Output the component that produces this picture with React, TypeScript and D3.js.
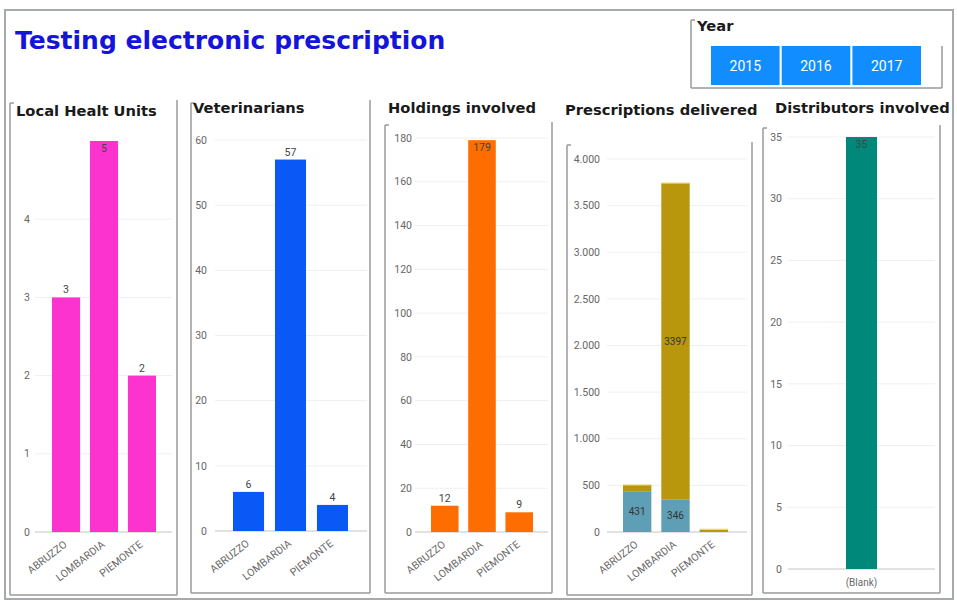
import React from 'react';
import * as d3 from 'd3';

// data
const regions = ['ABRUZZO', 'LOMBARDIA', 'PIEMONTE'];
const localHealthUnits = [3, 5, 2];
const veterinarians = [6, 57, 4];
const holdings = [12, 179, 9];
const prescriptionsLow = [431, 346, 10];
const prescriptionsHigh = [75, 3397, 20];
const distributorCats = ['(Blank)'];
const distributors = [35];
const years = ['2015', '2016', '2017'];

const lhuTicks = [0, 1, 2, 3, 4];
const vetTicks = [0, 10, 20, 30, 40, 50, 60];
const holdTicks = [0, 20, 40, 60, 80, 100, 120, 140, 160, 180];
const prescTicks = [0, 500, 1000, 1500, 2000, 2500, 3000, 3500, 4000];
const distTicks = [0, 5, 10, 15, 20, 25, 30, 35];

const FONT = 'Roboto, "Open Sans", sans-serif';
const TITLE_FONT = '"DejaVu Sans", Verdana, sans-serif';
const itFmt = (v: number) => (v >= 1000 ? d3.format(',')(v).replace(',', '.') : String(v));

type Panel = {
  title: string;
  tx: number;
  ty: number;
  frame: { l: number; r: number; top: number; b: number };
  cats: string[];
  series: number[][];
  colors: string[];
  ticks: number[];
  max: number;
  y0: number;
  yTop: number;
  barX: [number, number];
  grid: [number, number];
  tickX: number;
  rotate: boolean;
};

const panels: Panel[] = [
  {
    title: 'Local Healt Units', tx: 16, ty: 116,
    frame: { l: 10, r: 177, top: 103, b: 595 },
    cats: regions, series: [localHealthUnits], colors: ['#fd33d0'],
    ticks: lhuTicks, max: 5, y0: 532, yTop: 141,
    barX: [52, 156], grid: [35, 172], tickX: 30, rotate: true,
  },
  {
    title: 'Veterinarians', tx: 193, ty: 113,
    frame: { l: 191, r: 370, top: 103, b: 593 },
    cats: regions, series: [veterinarians], colors: ['#0a58f5'],
    ticks: vetTicks, max: 60, y0: 531, yTop: 140,
    barX: [233, 348], grid: [215, 367], tickX: 207, rotate: true,
  },
  {
    title: 'Holdings involved', tx: 388, ty: 113,
    frame: { l: 385, r: 552, top: 125, b: 593 },
    cats: regions, series: [holdings], colors: ['#fe6d00'],
    ticks: holdTicks, max: 180, y0: 532, yTop: 138,
    barX: [431, 533], grid: [415, 548], tickX: 412, rotate: true,
  },
  {
    title: 'Prescriptions delivered', tx: 565, ty: 115,
    frame: { l: 567, r: 752, top: 145, b: 595 },
    cats: regions, series: [prescriptionsLow, prescriptionsHigh], colors: ['#5f9fb5', '#b8970c'],
    ticks: prescTicks, max: 4000, y0: 532, yTop: 159,
    barX: [623, 728], grid: [607, 747], tickX: 600, rotate: true,
  },
  {
    title: 'Distributors involved', tx: 775, ty: 113,
    frame: { l: 763, r: 940, top: 128, b: 593 },
    cats: distributorCats, series: [distributors], colors: ['#00897a'],
    ticks: distTicks, max: 35, y0: 569, yTop: 137,
    barX: [846, 877], grid: [788, 935], tickX: 782, rotate: false,
  },
];

const BarPanel = ({ p }: { p: Panel }) => {
  const y = d3.scaleLinear().domain([0, p.max]).range([p.y0, p.yTop]);
  const x = d3.scaleBand().domain(p.cats).range(p.barX).paddingInner(p.cats.length > 1 ? 0.26 : 0).paddingOuter(0);
  const stacked = p.series.length > 1;
  const rows = p.cats.map((c, i) => {
    const o: any = { cat: c };
    p.series.forEach((s, k) => (o['s' + k] = s[i]));
    return o;
  });
  const stack = d3.stack<any>().keys(p.series.map((_, k) => 's' + k))(rows);

  return (
    <g>
      {/* frame */}
      <g stroke="#9a9a9a" strokeWidth={1.5} fill="none">
        <line x1={p.frame.l} x2={p.frame.l} y1={p.frame.top} y2={p.frame.b} />
        <line x1={p.frame.l} x2={p.frame.r} y1={p.frame.b} y2={p.frame.b} />
        <line x1={p.frame.r} x2={p.frame.r} y1={p.frame.top - 3} y2={p.frame.b} />
        <line x1={p.frame.l} x2={p.frame.l + 4} y1={p.frame.top} y2={p.frame.top} />
      </g>
      <text x={p.tx} y={p.ty} fontFamily={TITLE_FONT} fontWeight="bold" fontSize={14.7} fill="#1a1a1a">
        {p.title}
      </text>
      {/* grid + ticks */}
      {p.ticks.map((t) => (
        <g key={t}>
          <line x1={p.grid[0]} x2={p.grid[1]} y1={y(t)} y2={y(t)} stroke={t === 0 ? '#c4c4c4' : '#efefef'} strokeWidth={1} />
          <text x={p.tickX} y={y(t)} dy="0.35em" textAnchor="end" fontFamily={FONT} fontSize={10.5} fill="#666">
            {itFmt(t)}
          </text>
        </g>
      ))}
      {/* bars */}
      {stack.map((layer, k) =>
        layer.map((d, i) => {
          const top = y(d[1]);
          const h = y(d[0]) - top;
          const bx = x(p.cats[i]) as number;
          const v = d[1] - d[0];
          let label = null;
          if (stacked) {
            if (h > 20)
              label = (
                <text x={bx + x.bandwidth() / 2} y={top + h / 2} dy="0.35em" textAnchor="middle" fontFamily={FONT} fontSize={10} fill="#333">
                  {v}
                </text>
              );
          } else {
            const inside = top < p.yTop + 12;
            label = (
              <text x={bx + x.bandwidth() / 2} y={inside ? top + 11 : top - 4} textAnchor="middle" fontFamily={FONT} fontSize={10.5} fill="#444">
                {v}
              </text>
            );
          }
          return (
            <g key={k + '-' + i}>
              <rect x={bx} y={top} width={x.bandwidth()} height={h} fill={p.colors[k]} />
              {label}
            </g>
          );
        })
      )}
      {stacked &&
        stack[stack.length - 1].map((d, i) => (
          <line key={'cap' + i} x1={x(p.cats[i]) as number} x2={(x(p.cats[i]) as number) + x.bandwidth()} y1={y(d[1])} y2={y(d[1])} stroke="#f2e39a" strokeWidth={1.2} />
        ))}
      {/* x labels */}
      {p.cats.map((c) =>
        p.rotate ? (
          <text
            key={c}
            transform={`translate(${(x(c) as number) + x.bandwidth() / 2 - 3},${p.y0 + 8}) rotate(-38)`}
            textAnchor="end"
            dy="0.7em"
            fontFamily={FONT}
            fontSize={10.5}
            fill="#6a6a6a"
          >
            {c}
          </text>
        ) : (
          <text key={c} x={(x(c) as number) + x.bandwidth() / 2} y={p.y0 + 17} textAnchor="middle" fontFamily={FONT} fontSize={10} fill="#6a6a6a">
            {c}
          </text>
        )
      )}
    </g>
  );
};

const App = () => {
  const yb = d3.scaleBand().domain(years).range([711, 921]).paddingInner(0.03);
  return (
    <svg width={957} height={601} style={{ position: 'absolute', left: 0, top: 0, background: '#fff' }}>
      <rect x={5} y={10} width={948} height={589} fill="#fff" stroke="#a6a9ad" strokeWidth={2} />
      <text x={15} y={49} fontFamily={TITLE_FONT} fontWeight="bold" fontSize={25} fill="#1414dc">
        Testing electronic prescription
      </text>

      {/* year slicer */}
      <g stroke="#9a9a9a" strokeWidth={1.5} fill="none">
        <line x1={691} x2={691} y1={20} y2={88} />
        <line x1={691} x2={942} y1={88} y2={88} />
        <line x1={942} x2={942} y1={46} y2={88} />
        <line x1={691} x2={695} y1={20} y2={20} />
      </g>
      <text x={697} y={31} fontFamily={TITLE_FONT} fontWeight="bold" fontSize={14.7} fill="#1a1a1a">
        Year
      </text>
      {years.map((yr) => (
        <g key={yr}>
          <rect x={yb(yr)} y={46} width={yb.bandwidth()} height={39} fill="#118dff" />
          <text x={(yb(yr) as number) + yb.bandwidth() / 2} y={71} textAnchor="middle" fontFamily={FONT} fontSize={14} fill="#fff">
            {yr}
          </text>
        </g>
      ))}

      {panels.map((p) => (
        <BarPanel key={p.title} p={p} />
      ))}
    </svg>
  );
};

export default App;
